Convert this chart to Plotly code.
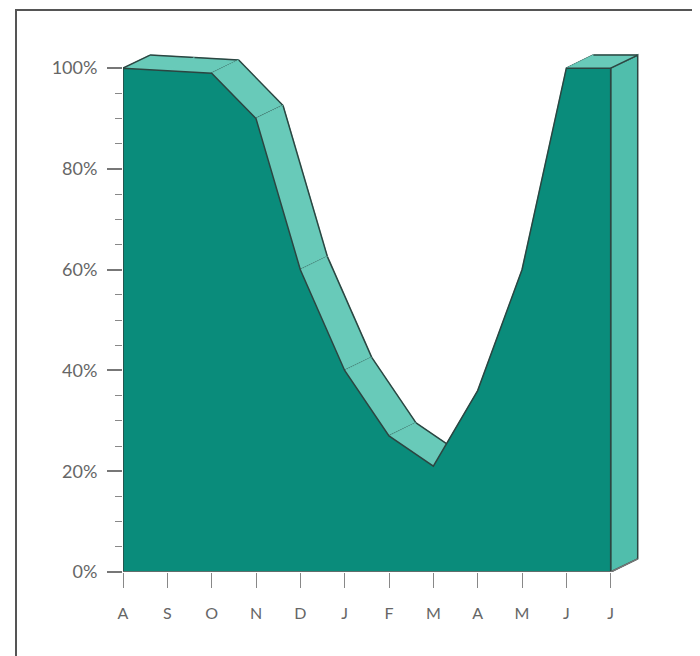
import plotly.graph_objects as go

# ---- data ----
months = ["A", "S", "O", "N", "D", "J", "F", "M", "A", "M", "J", "J"]
values = [100, 99.5, 99, 90, 60, 40, 27, 21, 36, 60, 100, 100]
y_ticks = [0, 20, 40, 60, 80, 100]

# ---- style ----
FRONT = "#0A8C7B"
TOP = "#68CAB9"
SIDE = "#50BEAC"
EDGE = "#2C4541"
DX = 0.61   # depth offset in x units
DY = 2.6    # depth offset in y units

xs = list(range(len(months)))
n = len(xs)

fig = go.Figure()

# right side face
last = n - 1
fig.add_trace(go.Scatter(
    x=[xs[last], xs[last] + DX, xs[last] + DX, xs[last], xs[last]],
    y=[0, DY, values[last] + DY, values[last], 0],
    fill="toself", fillcolor=SIDE, mode="lines",
    line=dict(color=EDGE, width=1.5), hoverinfo="skip", showlegend=False))

def slope(i):
    return values[i + 1] - values[i]

# top faces, left to right
for i in range(n - 1):
    fl = (xs[i], values[i])
    fr = (xs[i + 1], values[i + 1])
    bl = (xs[i] + DX, values[i] + DY)
    br = (xs[i + 1] + DX, values[i + 1] + DY)
    fig.add_trace(go.Scatter(
        x=[fl[0], bl[0], br[0], fr[0], fl[0]],
        y=[fl[1], bl[1], br[1], fr[1], fl[1]],
        fill="toself", fillcolor=TOP, mode="lines",
        line=dict(width=1, color=TOP), hoverinfo="skip", showlegend=False))
    lx, ly = [bl[0], br[0], None], [bl[1], br[1], None]
    if i == 0:
        lx += [fl[0], bl[0], None]
        ly += [fl[1], bl[1], None]
    right_div = (i + 1 == n - 1) or abs(slope(i + 1) - slope(i)) > 0.6
    if right_div:
        lx += [fr[0], br[0], None]
        ly += [fr[1], br[1], None]
    fig.add_trace(go.Scatter(
        x=lx, y=ly, mode="lines", line=dict(color=EDGE, width=1.5),
        hoverinfo="skip", showlegend=False))

# front face
fig.add_trace(go.Scatter(
    x=[xs[0]] + xs + [xs[-1], xs[0]],
    y=[0] + values + [0, 0],
    fill="toself", fillcolor=FRONT, mode="lines",
    line=dict(color=EDGE, width=1.5), hoverinfo="skip", showlegend=False))

# baseline under the side face
fig.add_trace(go.Scatter(
    x=[xs[0], xs[-1], xs[-1] + DX], y=[0, 0, DY], mode="lines",
    line=dict(color="#777777", width=1.5), hoverinfo="skip", showlegend=False))

yfont = dict(family="Lato, Open Sans, sans-serif", size=18, color="#666666")
xfont = dict(family="Lato, Open Sans, sans-serif", size=16, color="#666666")

L, T, W, H = 115, 40, 532, 524

fig.update_layout(
    width=700, height=656,
    margin=dict(l=L, r=700 - L - W, t=T, b=656 - T - H),
    paper_bgcolor="white", plot_bgcolor="white",
    showlegend=False,
    xaxis=dict(
        range=[0, 12], tickmode="array", tickvals=xs, ticktext=months,
        ticks="outside", ticklen=15, tickwidth=1.2, tickcolor="#888888",
        showline=False, showgrid=False, zeroline=False,
        tickfont=xfont, ticklabelstandoff=12, fixedrange=True),
    yaxis=dict(
        range=[0, 104], tickmode="array", tickvals=y_ticks,
        ticktext=[f"{v}%" for v in y_ticks],
        ticks="outside", ticklen=15, tickwidth=1.5, tickcolor="#777777",
        minor=dict(ticks="outside", ticklen=7, dtick=5, tick0=0,
                   tickwidth=1.2, tickcolor="#888888"),
        showline=False, showgrid=False, zeroline=False,
        tickfont=yfont, ticklabelstandoff=6, fixedrange=True),
    shapes=[dict(type="rect", xref="paper", yref="paper",
                 x0=(8 - L) / W, x1=(720 - L) / W,
                 y0=-0.3, y1=(T + H - 2) / H,
                 line=dict(color="#555555", width=2), fillcolor="rgba(0,0,0,0)",
                 layer="below")],
)

fig.write_html("out.html")
